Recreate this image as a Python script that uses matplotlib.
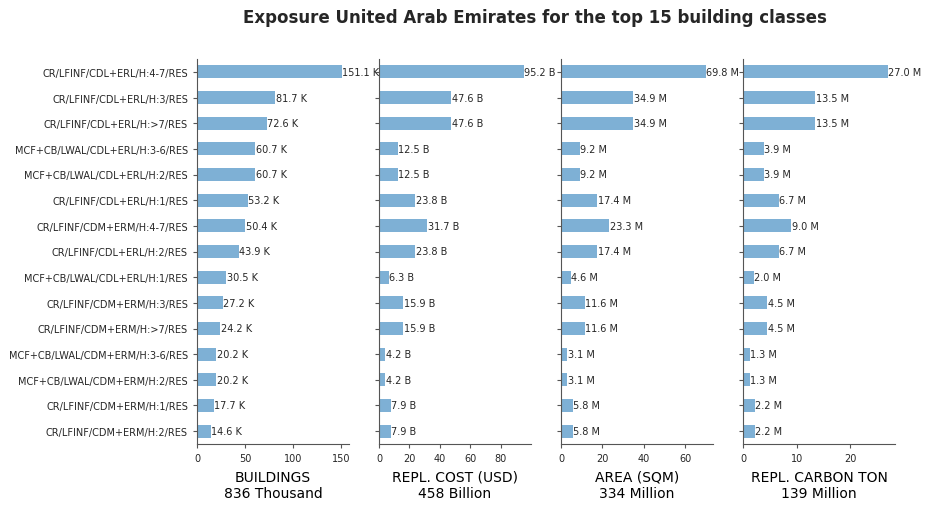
import matplotlib
matplotlib.use("Agg")
import matplotlib.pyplot as plt

categories = [
    "CR/LFINF/CDL+ERL/H:4-7/RES",
    "CR/LFINF/CDL+ERL/H:3/RES",
    "CR/LFINF/CDL+ERL/H:>7/RES",
    "MCF+CB/LWAL/CDL+ERL/H:3-6/RES",
    "MCF+CB/LWAL/CDL+ERL/H:2/RES",
    "CR/LFINF/CDL+ERL/H:1/RES",
    "CR/LFINF/CDM+ERM/H:4-7/RES",
    "CR/LFINF/CDL+ERL/H:2/RES",
    "MCF+CB/LWAL/CDL+ERL/H:1/RES",
    "CR/LFINF/CDM+ERM/H:3/RES",
    "CR/LFINF/CDM+ERM/H:>7/RES",
    "MCF+CB/LWAL/CDM+ERM/H:3-6/RES",
    "MCF+CB/LWAL/CDM+ERM/H:2/RES",
    "CR/LFINF/CDM+ERM/H:1/RES",
    "CR/LFINF/CDM+ERM/H:2/RES",
]
buildings_k = [151.1, 81.7, 72.6, 60.7, 60.7, 53.2, 50.4, 43.9, 30.5, 27.2, 24.2, 20.2, 20.2, 17.7, 14.6]
cost_b = [95.2, 47.6, 47.6, 12.5, 12.5, 23.8, 31.7, 23.8, 6.3, 15.9, 15.9, 4.2, 4.2, 7.9, 7.9]
area_m = [69.8, 34.9, 34.9, 9.2, 9.2, 17.4, 23.3, 17.4, 4.6, 11.6, 11.6, 3.1, 3.1, 5.8, 5.8]
carbon_m = [27.0, 13.5, 13.5, 3.9, 3.9, 6.7, 9.0, 6.7, 2.0, 4.5, 4.5, 1.3, 1.3, 2.2, 2.2]

panels = [
    (buildings_k, "K", "BUILDINGS\n836 Thousand"),
    (cost_b, "B", "REPL. COST (USD)\n458 Billion"),
    (area_m, "M", "AREA (SQM)\n334 Million"),
    (carbon_m, "M", "REPL. CARBON TON\n139 Million"),
]

W, H = 932, 510
fig = plt.figure(figsize=(W / 100, H / 100), dpi=100)
bar_color = "#7EB0D5"
text_color = "#262626"
spine_color = "#555555"

ax_left0 = 197
ax_w = 152
ax_step = 182
ax_top = 60
ax_bot = 445

for i, (vals, unit, label) in enumerate(panels):
    left = (ax_left0 + i * ax_step) / W
    ax = fig.add_axes([left, 1 - ax_bot / H, ax_w / W, (ax_bot - ax_top) / H])
    y = list(range(len(categories)))
    ax.barh(y, vals, height=0.5, color=bar_color)
    ax.set_ylim(len(categories) - 0.5, -0.5)
    ax.set_xlim(0, max(vals) * 1.05)
    ax.set_yticks(y)
    if i == 0:
        ax.set_yticklabels(categories, fontsize=7, color=text_color)
    else:
        ax.set_yticklabels([])
    for yy, v in zip(y, vals):
        ax.annotate(f"{v:.1f} {unit}", xy=(v, yy), xytext=(0.3, 0), textcoords="offset points",
                    va="center", ha="left", fontsize=7, color=text_color)
    ax.tick_params(axis="x", labelsize=7, colors=spine_color, labelcolor=text_color, length=3)
    ax.tick_params(axis="y", colors=spine_color, labelcolor=text_color, length=3)
    for s in ("top", "right"):
        ax.spines[s].set_visible(False)
    for s in ("left", "bottom"):
        ax.spines[s].set_color(spine_color)
    ax.set_xlabel(label, fontsize=10, color="black", labelpad=5)

fig.text(535 / W, 1 - 18 / H, "Exposure United Arab Emirates for the top 15 building classes",
         ha="center", va="center", fontsize=12, fontweight="bold", color=text_color)

fig.savefig("out.png", dpi=100)
